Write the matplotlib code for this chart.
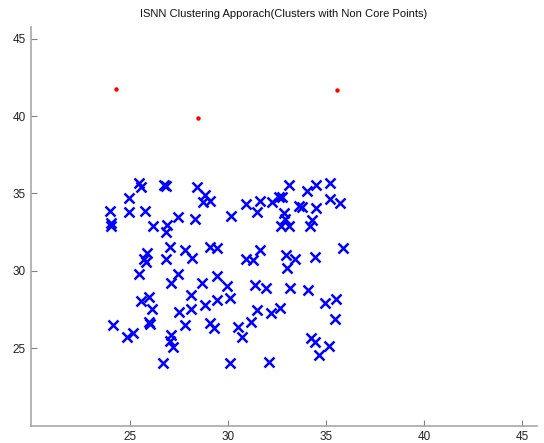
import matplotlib
matplotlib.use('Agg')
import matplotlib.pyplot as plt

# clustered points (non core)
cluster_x = [
    25.49, 25.56, 26.74, 26.88, 28.44, 28.83, 28.74, 29.12, 24.98, 23.99,
    24.98, 25.78, 24.03, 24.03, 26.20, 26.91, 26.84, 27.47, 28.32, 27.05,
    27.81, 28.20, 29.12, 29.44, 25.89, 25.72, 25.82, 26.88, 25.49, 27.47,
    33.12, 34.03, 34.51, 35.23, 35.23, 35.74, 30.19, 30.95, 31.63, 31.51,
    32.25, 32.62, 32.79, 32.88, 32.91, 32.71, 33.12, 33.63, 33.80, 34.51,
    34.31, 34.21, 31.66, 32.95, 34.47, 35.87, 30.95, 31.28, 33.41, 33.02,
    29.47,
    27.13, 25.56, 26.00, 26.12, 28.15, 27.52, 28.15, 26.00, 26.03, 24.13,
    24.88, 25.15, 27.81, 27.13, 27.08, 27.22, 26.71,
    28.71, 29.96, 31.37, 31.93, 33.19, 34.09, 28.83, 29.46, 30.10, 31.49,
    32.22, 32.65, 34.94, 35.52, 29.12, 29.29, 30.53, 30.75, 31.20, 35.45,
    34.23, 34.47, 35.14, 34.63, 30.14, 32.11,
]
cluster_y = [
    35.69, 35.43, 35.54, 35.48, 35.43, 34.90, 34.46, 34.53, 34.68, 33.88,
    33.82, 33.88, 33.11, 32.89, 32.89, 32.96, 32.53, 33.46, 33.33, 31.52,
    31.34, 30.81, 31.52, 31.45, 31.13, 30.74, 30.59, 30.74, 29.79, 29.79,
    35.54, 35.17, 35.54, 35.69, 34.62, 34.40, 33.54, 34.32, 34.53, 33.82,
    34.46, 34.75, 34.75, 33.75, 33.33, 32.89, 32.89, 34.18, 34.10, 34.04,
    33.28, 32.89, 31.34, 31.02, 30.87, 31.45, 30.74, 30.70, 30.74, 30.16,
    29.66,
    29.23, 28.07, 28.33, 27.51, 28.44, 27.37, 27.51, 26.71, 26.56, 26.50,
    25.74, 25.96, 26.50, 25.86, 25.49, 25.10, 24.06,
    29.23, 29.02, 29.08, 28.87, 28.87, 28.76, 27.79, 28.11, 28.22, 27.47,
    27.30, 27.58, 27.90, 28.16, 26.61, 26.29, 26.39, 25.74, 26.71, 26.87,
    25.64, 25.42, 25.14, 24.56, 24.06, 24.13,
]

# isolated points
noise_x = [24.29, 28.47, 35.56]
noise_y = [41.76, 39.87, 41.70]

ticks = [25, 30, 35, 40, 45]

plt.rcParams['font.family'] = ['Liberation Sans', 'DejaVu Sans']

fig = plt.figure(figsize=(5.44, 4.43), dpi=100)
ax = fig.add_axes([0.0579, 0.0389, 0.9287, 0.9001])

ax.plot(cluster_x, cluster_y, linestyle='none', marker='x', color='#0000ff',
        markersize=7.5, markeredgewidth=1.8)
ax.plot(noise_x, noise_y, linestyle='none', marker='o', color='#ff0000',
        markersize=3.2, markeredgewidth=0)

ax.set_xlim(20, 45.75)
ax.set_ylim(20, 45.75)
ax.set_xticks(ticks)
ax.set_yticks(ticks)

for side in ['top', 'right']:
    ax.spines[side].set_visible(False)
for side in ['left', 'bottom']:
    ax.spines[side].set_color('#a8a8a8')
    ax.spines[side].set_linewidth(1.2)
ax.tick_params(direction='in', length=4, width=0.8, color='#808080',
               labelsize=8.5, labelcolor='#222222', pad=4)

ax.set_title('ISNN Clustering Apporach(Clusters with Non Core Points)',
             fontsize=8, color='#111111', pad=7)

fig.savefig('out.png', dpi=100)
